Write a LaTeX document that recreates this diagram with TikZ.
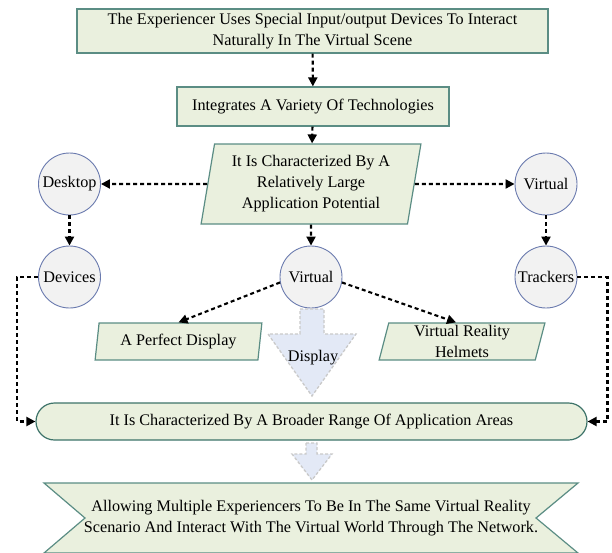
\documentclass[tikz,border=0pt]{standalone}
\usepackage{fontspec}
\setmainfont{Liberation Serif}
\usetikzlibrary{shapes.geometric,shapes.misc,arrows.meta}

\definecolor{boxfill}{HTML}{EAF0DE}
\definecolor{boxline}{HTML}{5B8D84}
\definecolor{pillline}{HTML}{3D7369}
\definecolor{circfill}{HTML}{F2F2F2}
\definecolor{circline}{HTML}{6A7AAE}
\definecolor{fatfill}{HTML}{E3E9F6}
\definecolor{fatline}{HTML}{C9C9C9}

\tikzset{
  every node/.style={font=\fontsize{16.2}{21}\selectfont},
  box/.style={draw=boxline,fill=boxfill,line width=1.2pt,align=center,inner sep=0pt},
  slant/.style={box,trapezium,trapezium left angle=79,trapezium right angle=101,trapezium stretches=true},
  blob/.style={circle,draw=circline,fill=circfill,line width=0.9pt,minimum size=62pt,inner sep=0pt},
  link/.style={black,line width=2.1pt,dash pattern=on 4pt off 3pt,-{Triangle[length=9pt,width=9pt]}},
  fat/.style={fill=fatfill,draw=fatline,line width=1.3pt,dash pattern=on 3pt off 2pt}
}

\begin{document}
\begin{tikzpicture}[x=1pt,y=-1pt]
\useasboundingbox (0,0) rectangle (612,552);

% Boxes down the middle
\node[box,minimum width=471pt,minimum height=44pt] (exper) at (312.5,31) {The Experiencer Uses Special Input/output Devices To Interact\\Naturally In The Virtual Scene};
\node[box,minimum width=272pt,minimum height=39pt] (integ) at (313,106.5) {Integrates A Variety Of Technologies};
\node[slant,minimum width=220pt,minimum height=80pt] (poten) at (311,184) {It Is Characterized By A\\Relatively Large\\Application Potential};

% Circles
\node[blob] (desk) at (69.5,184) {Desktop};
\node[blob] (virtr) at (546,184) {Virtual};
\node[blob] (dev) at (69.5,277) {Devices};
\node[blob] (virtc) at (311,277) {Virtual};
\node[blob] (track) at (546,277) {Trackers};

% The two slanted boxes under the middle circle
\node[slant,minimum width=167pt,minimum height=37pt] (perf) at (178.5,341.5) {A Perfect Display};
\node[slant,minimum width=166pt,minimum height=37pt] (helm) at (462,341.5) {Virtual Reality\\Helmets};

% Big fat arrow
\filldraw[fat] (300,309) -- (324,309) -- (324,334) -- (356,334) -- (312,396) -- (268,334) -- (300,334) -- cycle;
\node (disp) at (313,358) {Display};

% Wide rounded box
\node[box,rounded rectangle,draw=pillline,minimum width=551pt,minimum height=37pt] (broad) at (311.5,421.5) {It Is Characterized By A Broader Range Of Application Areas};

% Small fat arrow
\filldraw[fat] (306,443) -- (317,443) -- (317,454) -- (332,454) -- (312,480) -- (292,454) -- (306,454) -- cycle;

% Banner at the bottom
\filldraw[draw=boxline,fill=boxfill,line width=1.2pt] (44,483) -- (578,483) -- (536,518) -- (578,553) -- (44,553) -- (85,518) -- cycle;
\node[align=center] (multi) at (311,518) {Allowing Multiple Experiencers To Be In The Same Virtual Reality\\Scenario And Interact With The Virtual World Through The Network.};

% Dashed links
\draw[link] (exper) -- (integ);
\draw[link] (integ) -- (poten);
\draw[link] (poten.west) -- (desk);
\draw[link] (poten.east) -- (virtr);
\draw[link] (desk) -- (dev);
\draw[link] (virtr) -- (track);
\draw[link] (poten.south) -- (virtc);
\draw[link] (virtc.190) -- (perf.north);
\draw[link] (virtc.350) -- ([xshift=-6pt]helm.north);
\draw[link] (dev.west) -- ++(-21,0) |- (broad.west);
\draw[link] (track.east) -- ++(30,0) |- (broad.east);

\end{tikzpicture}
\end{document}
